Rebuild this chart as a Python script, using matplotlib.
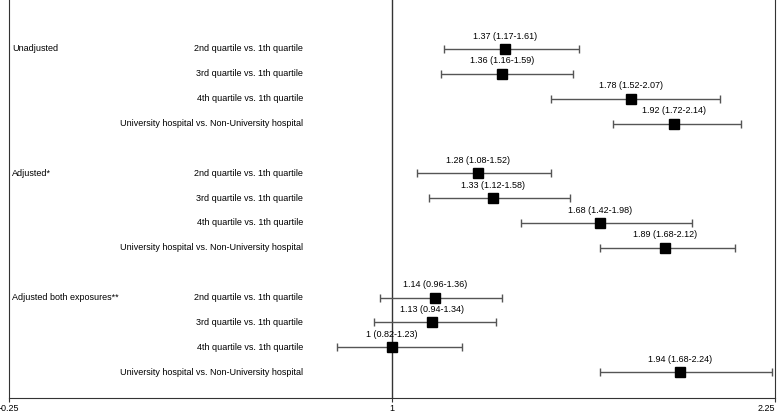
import matplotlib.pyplot as plt

plt.rcParams['font.family'] = ['Liberation Sans Narrow', 'Liberation Sans', 'DejaVu Sans']

groups = ['Unadjusted', 'Adjusted*', 'Adjusted both exposures**']
comparisons = ['2nd quartile vs. 1th quartile', '3rd quartile vs. 1th quartile',
               '4th quartile vs. 1th quartile', 'University hospital vs. Non-University hospital']

est = [[1.37, 1.36, 1.78, 1.92],
       [1.28, 1.33, 1.68, 1.89],
       [1.14, 1.13, 1.00, 1.94]]
lo = [[1.17, 1.16, 1.52, 1.72],
      [1.08, 1.12, 1.42, 1.68],
      [0.96, 0.94, 0.82, 1.68]]
hi = [[1.61, 1.59, 2.07, 2.14],
      [1.52, 1.58, 1.98, 2.12],
      [1.36, 1.34, 1.23, 2.24]]

fig = plt.figure(figsize=(7.78, 4.13), dpi=100)
ax = fig.add_axes([9 / 778, 15 / 413, 766 / 778, 398 / 413])

fs = 6.5
for g, name in enumerate(groups):
    for i, comp in enumerate(comparisons):
        y = -(g * 5 + i)
        e, l, h = est[g][i], lo[g][i], hi[g][i]
        ax.errorbar(e, y, xerr=[[e - l], [h - e]], fmt='none', ecolor='#555555',
                    elinewidth=1, capsize=3, capthick=1, zorder=2)
        ax.plot(e, y, 's', color='black', markersize=7, zorder=3)
        ax.text(e, y + 0.52, f'{e:g} ({l:.2f}-{h:.2f})', ha='center', va='center', fontsize=fs)
        ax.text(0.71, y, comp, ha='right', va='center', fontsize=fs)
    ax.text(-0.24, -(g * 5), name, ha='left', va='center', fontsize=fs)

ax.axvline(1, color='#333333', linewidth=1, zorder=1)
ax.set_xlim(-0.25, 2.25)
ax.set_ylim(-14.04, 1.97)
ax.set_xticks([-0.25, 1, 2.25])
ax.set_xticklabels(['-0.25', '1', '2.25'], fontsize=fs)
ax.get_xticklabels()[-1].set_ha('right')
ax.set_yticks([])
ax.spines['top'].set_visible(False)
for s in ['left', 'right', 'bottom']:
    ax.spines[s].set_color('#333333')
ax.tick_params(axis='x', length=3, color='#333333', pad=1)

fig.savefig('out.png', dpi=100)
